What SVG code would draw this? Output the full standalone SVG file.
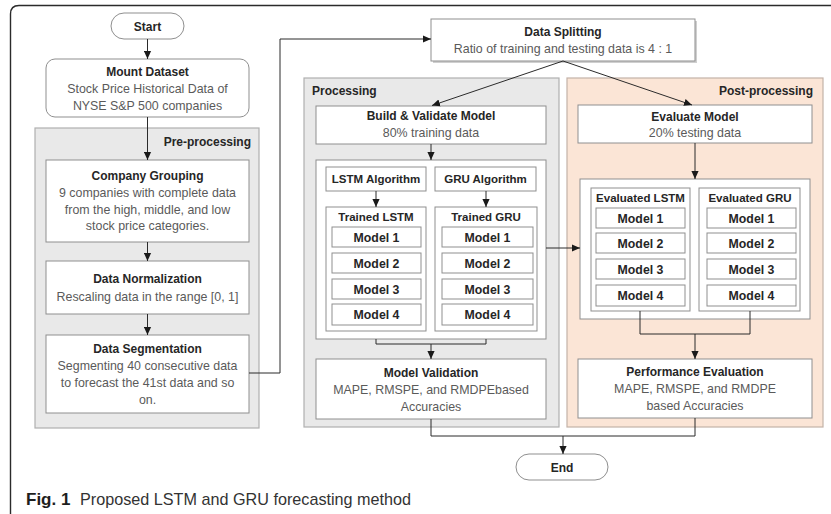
<svg xmlns="http://www.w3.org/2000/svg" width="831" height="514" viewBox="0 0 831 514">
<defs>
<marker id="ah" viewBox="0 0 10 10" refX="10" refY="5" markerWidth="8" markerHeight="8" markerUnits="userSpaceOnUse" orient="auto"><path d="M0,0.5 L10,5 L0,9.5 z" fill="#1a1a1a"/></marker>
<style>
text{font-family:"Liberation Sans",Arial,sans-serif;text-anchor:middle}
.t{font-weight:bold;font-size:12px;fill:#262626}
.s{font-weight:bold;font-size:11.5px;fill:#262626}
.m{font-weight:bold;font-size:12.3px;fill:#262626}
.d{font-size:12.4px;fill:#5a5a5a}
.box{fill:#fff;stroke:#8f8f8f;stroke-width:1}
.gc{fill:#e9e9e9;stroke:#b0b0b0;stroke-width:1.2}
.pc{fill:#fbe5d6;stroke:#c3b2a7;stroke-width:1.2}
.c{fill:none;stroke:#2b2b2b;stroke-width:1}
.a{marker-end:url(#ah)}
</style>
</defs>
<rect width="831" height="514" fill="#fff"/>
<path d="M831,5.5 H19 Q10.5,5.5 10.5,14 V514" fill="none" stroke="#2b2b2b" stroke-width="1.4"/>

<g id="preprocessing">
<rect class="gc" x="35" y="128" width="224" height="300"/>
<text class="t" x="251" y="146" style="text-anchor:end">Pre-processing</text>
</g>
<g id="processing">
<rect class="gc" x="304" y="78" width="255" height="349"/>
<text class="t" x="312" y="95" style="text-anchor:start">Processing</text>
</g>
<g id="postprocessing">
<rect class="pc" x="567" y="78" width="256" height="349"/>
<text class="t" x="813" y="95" style="text-anchor:end">Post-processing</text>
</g>

<g id="start">
<rect class="box" x="111" y="13" width="73" height="26" rx="13"/>
<text class="t" x="147.5" y="30.5">Start</text>
</g>
<g id="mount">
<rect class="box" x="46" y="59" width="203" height="58" rx="9"/>
<text class="t" x="147.5" y="76">Mount Dataset</text>
<text class="d" x="147.5" y="93">Stock Price Historical Data of</text>
<text class="d" x="147.5" y="110">NYSE S&amp;P 500 companies</text>
</g>
<g id="grouping">
<rect class="box" x="46" y="160" width="203" height="82"/>
<text class="t" x="147.5" y="180">Company Grouping</text>
<text class="d" x="147.5" y="197">9 companies with complete data</text>
<text class="d" x="147.5" y="213.5">from the high, middle, and low</text>
<text class="d" x="147.5" y="230">stock price categories.</text>
</g>
<g id="normalization">
<rect class="box" x="46" y="261" width="203" height="53"/>
<text class="t" x="147.5" y="283">Data Normalization</text>
<text class="d" x="147.5" y="301">Rescaling data in the range [0, 1]</text>
</g>
<g id="segmentation">
<rect class="box" x="46" y="335" width="203" height="78"/>
<text class="t" x="147.5" y="353">Data Segmentation</text>
<text class="d" x="147.5" y="370">Segmenting 40 consecutive data</text>
<text class="d" x="147.5" y="387">to forecast the 41st data and so</text>
<text class="d" x="147.5" y="404">on.</text>
</g>

<g id="splitting">
<rect x="433" y="21" width="264" height="42" fill="#cfcfcf"/>
<rect class="box" x="431" y="19" width="264" height="42"/>
<text class="t" x="563" y="36">Data Splitting</text>
<text class="d" x="563" y="53">Ratio of training and testing data is 4 : 1</text>
</g>

<g id="build">
<rect class="box" x="316" y="106" width="230" height="38"/>
<text class="t" x="431" y="120">Build &amp; Validate Model</text>
<text class="d" x="431" y="137">80% training data</text>
</g>
<g id="training-container">
<rect class="box" x="316" y="160" width="230" height="179"/>
</g>
<g id="lstm-alg">
<rect class="box" x="326" y="167" width="100" height="24"/>
<text class="s" x="376" y="183">LSTM Algorithm</text>
</g>
<g id="gru-alg">
<rect class="box" x="435" y="167" width="101" height="24"/>
<text class="s" x="485.5" y="183">GRU Algorithm</text>
</g>
<g id="trained-lstm">
<rect class="box" x="326" y="207" width="100" height="124"/>
<text class="s" x="376" y="221">Trained LSTM</text>
<rect class="box" x="332" y="227" width="89" height="20"/><text class="m" x="376.5" y="241.5">Model 1</text>
<rect class="box" x="332" y="253" width="89" height="20"/><text class="m" x="376.5" y="267.5">Model 2</text>
<rect class="box" x="332" y="279" width="89" height="20"/><text class="m" x="376.5" y="293.5">Model 3</text>
<rect class="box" x="332" y="304" width="89" height="21"/><text class="m" x="376.5" y="319">Model 4</text>
</g>
<g id="trained-gru">
<rect class="box" x="435" y="207" width="102" height="124"/>
<text class="s" x="486" y="221">Trained GRU</text>
<rect class="box" x="442" y="227" width="91" height="20"/><text class="m" x="487.5" y="241.5">Model 1</text>
<rect class="box" x="442" y="253" width="91" height="20"/><text class="m" x="487.5" y="267.5">Model 2</text>
<rect class="box" x="442" y="279" width="91" height="20"/><text class="m" x="487.5" y="293.5">Model 3</text>
<rect class="box" x="442" y="304" width="91" height="21"/><text class="m" x="487.5" y="319">Model 4</text>
</g>
<g id="validation">
<rect class="box" x="316" y="359" width="230" height="60"/>
<text class="t" x="431" y="377">Model Validation</text>
<text class="d" x="431" y="394">MAPE, RMSPE, and RMDPEbased</text>
<text class="d" x="431" y="411">Accuracies</text>
</g>

<g id="evaluate">
<rect class="box" x="578" y="105" width="234" height="38"/>
<text class="t" x="695" y="121">Evaluate Model</text>
<text class="d" x="695" y="137">20% testing data</text>
</g>
<g id="eval-container">
<rect class="box" x="580" y="179" width="230" height="140"/>
</g>
<g id="eval-lstm">
<rect class="box" x="591" y="188" width="99" height="123"/>
<text class="s" x="640.5" y="201.5">Evaluated LSTM</text>
<rect class="box" x="596" y="208" width="89" height="20"/><text class="m" x="640.5" y="222.5">Model 1</text>
<rect class="box" x="596" y="233" width="89" height="20"/><text class="m" x="640.5" y="247.5">Model 2</text>
<rect class="box" x="596" y="259" width="89" height="20"/><text class="m" x="640.5" y="273.5">Model 3</text>
<rect class="box" x="596" y="285" width="89" height="21"/><text class="m" x="640.5" y="300">Model 4</text>
</g>
<g id="eval-gru">
<rect class="box" x="699" y="188" width="101" height="123"/>
<text class="s" x="750" y="201.5">Evaluated GRU</text>
<rect class="box" x="707" y="208" width="89" height="20"/><text class="m" x="751.5" y="222.5">Model 1</text>
<rect class="box" x="707" y="233" width="89" height="20"/><text class="m" x="751.5" y="247.5">Model 2</text>
<rect class="box" x="707" y="259" width="89" height="20"/><text class="m" x="751.5" y="273.5">Model 3</text>
<rect class="box" x="707" y="285" width="89" height="21"/><text class="m" x="751.5" y="300">Model 4</text>
</g>
<g id="performance">
<rect class="box" x="578" y="359" width="234" height="59"/>
<text class="t" x="695" y="376">Performance Evaluation</text>
<text class="d" x="695" y="393">MAPE, RMSPE, and RMDPE</text>
<text class="d" x="695" y="410">based Accuracies</text>
</g>

<g id="end">
<rect class="box" x="516" y="454" width="92" height="26" rx="13"/>
<text class="t" x="562" y="471.5">End</text>
</g>

<g id="connectors">
<path class="c a" d="M147.5,39 V59"/>
<path class="c a" d="M147.5,117 V160"/>
<path class="c a" d="M147.5,242 V261"/>
<path class="c a" d="M147.5,314 V335"/>
<path class="c a" d="M249,373 H280 V39 H431"/>
<path class="c a" d="M563,61 L432,105.5"/>
<path class="c a" d="M563,61 L692,105"/>
<path class="c a" d="M431,144 V160"/>
<path class="c a" d="M376,191 V207"/>
<path class="c a" d="M486,191 V207"/>
<path class="c" d="M376,339 V344 H486 V339"/>
<path class="c a" d="M431,344 V359"/>
<path class="c a" d="M546,248 H580"/>
<path class="c a" d="M695,143 V179"/>
<path class="c" d="M640,311 V334 H750 V311"/>
<path class="c a" d="M695,334 V359"/>
<path class="c" d="M431,419 V436 H695 V418"/>
<path class="c a" d="M563,436 V454"/>
</g>

<g id="caption">
<text x="26" y="504.5" style="text-anchor:start;font-size:17px;font-weight:bold;fill:#1e1e1e">Fig. 1</text>
<text x="80" y="504.5" style="text-anchor:start;font-size:16.2px;fill:#333">Proposed LSTM and GRU forecasting method</text>
</g>
</svg>
